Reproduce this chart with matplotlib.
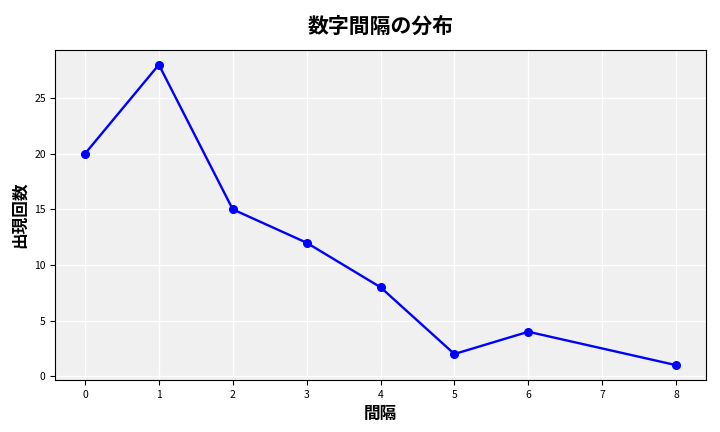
import matplotlib
matplotlib.use('Agg')
import matplotlib.pyplot as plt

plt.rcParams['font.family'] = ['Noto Sans CJK JP', 'DejaVu Sans']

gaps = [0, 1, 2, 3, 4, 5, 6, 8]
counts = [20, 28, 15, 12, 8, 2, 4, 1]

fig, ax = plt.subplots(figsize=(7.2, 4.32), dpi=100)
ax.set_facecolor('#f0f0f0')
ax.grid(True, color='white', linewidth=1)
ax.set_axisbelow(True)
ax.plot(gaps, counts, 'o-', color='blue', linewidth=1.7, markersize=5.5)
ax.set_title('数字間隔の分布', fontsize=15, fontweight='bold', pad=12)
ax.set_xlabel('間隔', fontsize=12, fontweight='bold')
ax.set_ylabel('出現回数', fontsize=12, fontweight='bold')
ax.tick_params(labelsize=7.5)
fig.subplots_adjust(left=0.077, right=0.98, top=0.885, bottom=0.12)
fig.savefig('out.png')
